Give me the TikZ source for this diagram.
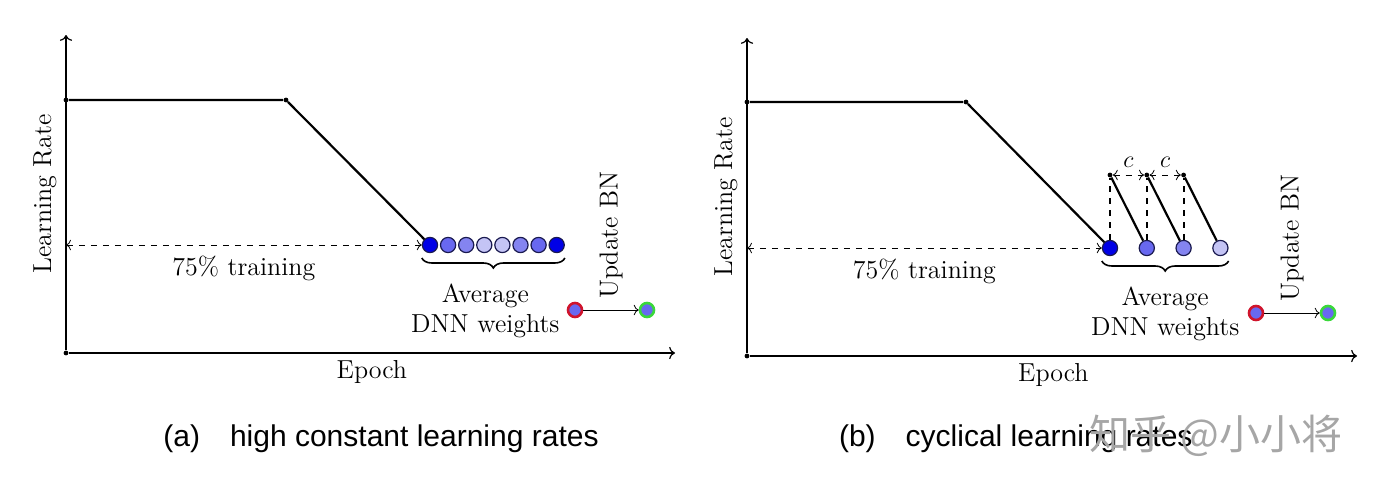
\documentclass[tikz,border=0pt]{standalone}
\usepackage{fontspec}
\newfontfamily\capfont{Liberation Sans}
\newfontfamily\cjk{Noto Sans CJK SC}
\usetikzlibrary{arrows.meta,decorations.pathreplacing}
\definecolor{WDeep}{HTML}{0000E6}
\definecolor{WMid}{HTML}{6868F0}
\definecolor{WSoft}{HTML}{8484F0}
\definecolor{WPale}{HTML}{C4C4F5}
\definecolor{WLine}{HTML}{1A1A50}
\definecolor{BNRed}{HTML}{D0142C}
\definecolor{BNGreen}{HTML}{3AD83A}

\begin{document}
\begin{tikzpicture}[x=0.5pt, y=-0.5pt, >=To,
            axis/.style={->, line width=0.6pt},
            lr/.style={line width=1.1pt},
            knot/.style={circle, fill=black, inner sep=0pt, minimum size=2.4pt},
            wt/.style={circle, draw=WLine, line width=0.6pt, minimum size=7.6pt, inner sep=0pt},
            bnin/.style={circle, fill=WMid, draw=BNRed, line width=1.3pt, minimum size=7pt, inner sep=0pt},
            bnout/.style={bnin, draw=BNGreen},
            lbl/.style={font=\fontsize{13}{15}\selectfont},
            captxt/.style={font=\capfont\fontsize{15}{17}\selectfont, anchor=base}]

            \useasboundingbox (0,0) rectangle (1377,487);

            % (a) constant learning rate
            \node[knot] (a-o) at (66,353) {};
            \coordinate (a-ytop) at (66,35);
            \coordinate (a-xend) at (675,353);
            \draw[axis] (a-o) -- (a-ytop);
            \draw[axis] (a-o) -- (a-xend) node[midway, below, lbl] {Epoch};
            \node[lbl, rotate=90] (a-ylab) at (45,194) {Learning Rate};

            \node[knot] (a-p0) at (66,100) {};
            \node[knot] (a-p1) at (286,100) {};
            \foreach \i/\c in {1/WDeep,2/WMid,3/WSoft,4/WPale,5/WPale,6/WSoft,7/WMid,8/WDeep}
                \node[wt, fill=\c] (a-w\i) at ({430+18.1*(\i-1)},245) {};
            \draw[lr] (a-p0) -- (a-p1) -- (a-w1);

            \coordinate (a-m) at (66,245);
            \draw[<->, dashed] (a-m) -- (a-w1) node[midway, below=2pt, lbl] {75\% training};

            \draw[decorate, decoration={brace, mirror, amplitude=5pt}, line width=0.8pt]
                ([yshift=-6.5pt]a-w1.west) -- ([yshift=-6.5pt]a-w8.east)
                node[midway, below=9pt, xshift=-4pt, lbl, align=center] (a-avg) {Average\\DNN weights};

            \node[bnin] (a-bn0) at (575,310) {};
            \node[bnout] (a-bn1) at (647,310) {};
            \draw[->] (a-bn0) -- (a-bn1) node[midway, yshift=2pt, rotate=90, anchor=west, lbl] {Update BN};

            \node[captxt] (a-cap) at (381,446) {(a)\quad high constant learning rates};

            % (b) cyclical learning rate
            \begin{scope}[shift={(681,3)}]
            \node[knot] (b-o) at (66,353) {};
            \coordinate (b-ytop) at (66,35);
            \coordinate (b-xend) at (676,353);
            \draw[axis] (b-o) -- (b-ytop);
            \draw[axis] (b-o) -- (b-xend) node[midway, below, lbl] {Epoch};
            \node[lbl, rotate=90] (b-ylab) at (45,194) {Learning Rate};

            \node[knot] (b-p0) at (66,99) {};
            \node[knot] (b-p1) at (285,99) {};
            \foreach \i/\c in {1/WDeep,2/WMid,3/WSoft,4/WPale}
                \node[wt, fill=\c] (b-w\i) at ({429+36.8*(\i-1)},245) {};
            \draw[lr] (b-p0) -- (b-p1) -- (b-w1);

            % restarts
            \foreach \i in {1,2,3}
                \node[knot] (b-t\i) at ({429+36.8*(\i-1)},172) {};
            \foreach \i [evaluate=\i as \j using int(\i+1)] in {1,2,3} {
                \draw[dashed, line width=1pt] (b-w\i) -- (b-t\i);
                \draw[lr] (b-t\i) -- (b-w\j);
            }
            \draw[<->, dashed] (b-t1) -- (b-t2) node[midway, above, lbl] {$c$};
            \draw[<->, dashed] (b-t2) -- (b-t3) node[midway, above, lbl] {$c$};

            \coordinate (b-m) at (66,245);
            \draw[<->, dashed] (b-m) -- (b-w1) node[midway, below=2pt, lbl] {75\% training};

            \draw[decorate, decoration={brace, mirror, amplitude=5pt}, line width=0.8pt]
                ([yshift=-6.5pt]b-w1.west) -- ([yshift=-6.5pt]b-w4.east)
                node[midway, below=9pt, lbl, align=center] (b-avg) {Average\\DNN weights};

            \node[bnin] (b-bn0) at (575,310) {};
            \node[bnout] (b-bn1) at (647,310) {};
            \draw[->] (b-bn0) -- (b-bn1) node[midway, yshift=2pt, rotate=90, anchor=west, lbl] {Update BN};
            \end{scope}

            \node[captxt, anchor=base west] (b-cap) at (832,446) {(b)\quad cyclical learning rates};
            \node[anchor=base west, text=black!35, font=\cjk\fontsize{20.5}{24}\selectfont] (mark) at (1082,449) {知乎 @小小将};
\end{tikzpicture}
\end{document}
